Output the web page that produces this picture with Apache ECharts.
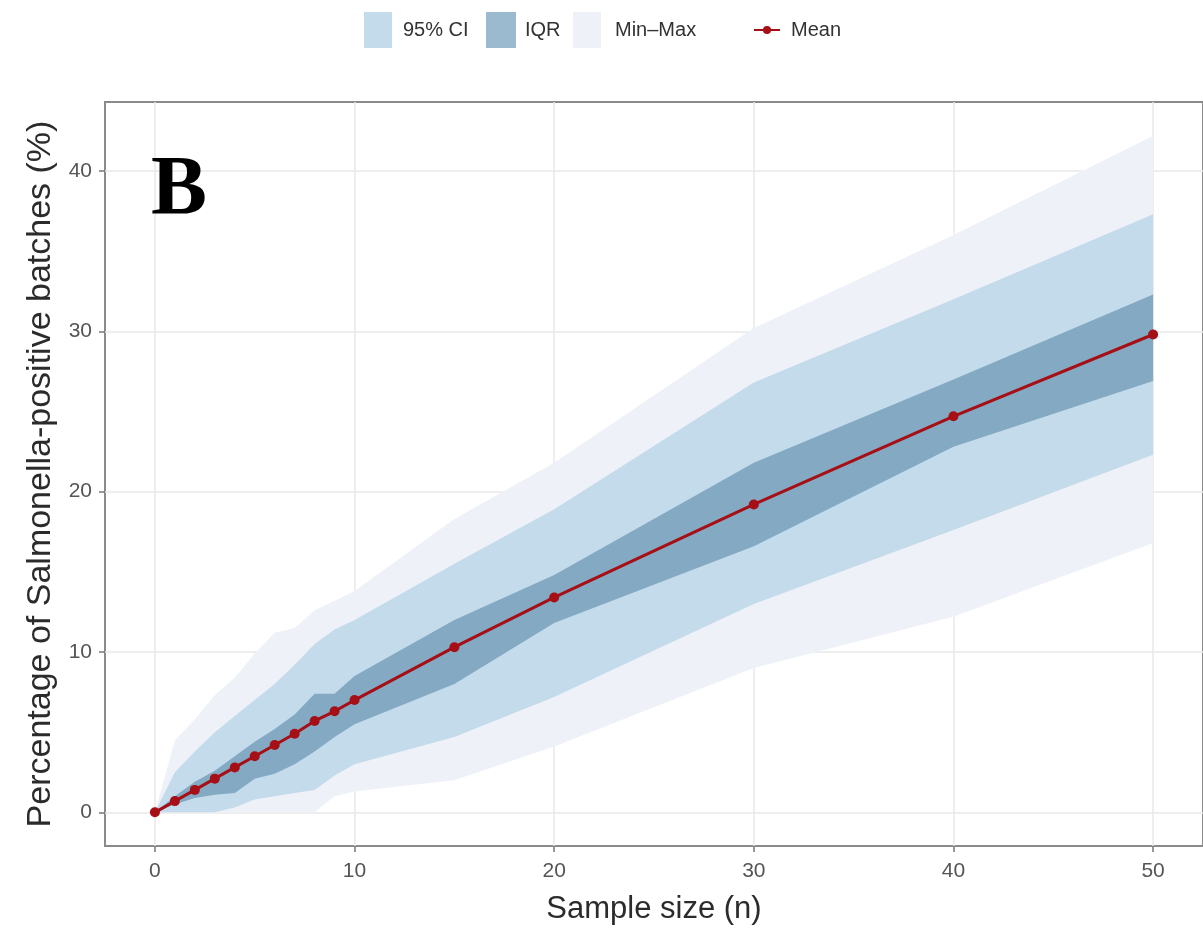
<!DOCTYPE html>
<html>
<head>
<meta charset="utf-8">
<script src="https://cdn.jsdelivr.net/npm/echarts@6/dist/echarts.min.js"></script>
<style>
html,body{margin:0;padding:0;background:#fff;}
#chart{width:1203px;height:933px;}
</style>
</head>
<body>
<div id="chart"></div>
<script>
// ---- data ----
const sampleSizes = [0,1,2,3,4,5,6,7,8,9,10,15,20,30,40,50];
const meanVals = [0,0.7,1.4,2.1,2.8,3.5,4.2,4.9,5.7,6.3,7.0,10.3,13.4,19.2,24.7,29.8];
const iqrLow  = [0,0.5,0.9,1.1,1.2,2.1,2.4,3.0,3.8,4.7,5.5,8.0,11.8,16.6,22.8,26.9];
const iqrHigh = [0,1.0,1.9,2.6,3.5,4.4,5.2,6.1,7.4,7.4,8.5,12.0,14.8,21.8,27.0,32.3];
const ciLow   = [0,0,0,0,0.3,0.8,1.0,1.2,1.4,2.3,3.0,4.7,7.2,13.0,17.6,22.3];
const ciHigh  = [0,2.5,3.8,5.0,6.0,7.0,8.0,9.2,10.5,11.4,12.0,15.5,18.9,26.8,32.0,37.3];
const mmLow   = [0,0,0,0,0,0,0,0,0,1.0,1.3,2.0,4.1,9.0,12.2,16.8];
const mmHigh  = [0,4.5,5.8,7.3,8.4,9.9,11.2,11.5,12.6,13.2,13.8,18.3,21.8,30.2,36.0,42.2];
const xTicks = [0,10,20,30,40,50];
const yTicks = [0,10,20,30,40];
const legendNames = ['95% CI','IQR','Min\u2013Max','Mean'];
const panelLabel = 'B';
const xTitle = 'Sample size (n)';
const yTitle = 'Percentage of Salmonella-positive batches (%)';

// ---- styles ----
const C_MM = '#eef2f8', C_CI = '#c4dbeb', C_IQR = '#84a9c3', C_IQR_LEG = '#9bb9cf', C_MEAN = '#a50f15';
const FONT = "'Liberation Sans', Arial, sans-serif";

function bandSeries(name, lo, hi, color){
  return {
    type:'custom', name:name, silent:true, z:1,
    itemStyle:{color:color},
    data: sampleSizes.map((x,i)=>[x, lo[i], hi[i]]),
    encode:{x:0, y:[1,2]},
    renderItem:function(params, api){
      if (params.dataIndex !== 0) return null;
      const pts = [];
      for (let i=0;i<sampleSizes.length;i++) pts.push(api.coord([sampleSizes[i], hi[i]]));
      for (let i=sampleSizes.length-1;i>=0;i--) pts.push(api.coord([sampleSizes[i], lo[i]]));
      return {type:'polygon', shape:{points:pts}, style:{fill:color, stroke:null}};
    }
  };
}

const chart = echarts.init(document.getElementById('chart'), null, {renderer:'canvas'});
const baseText = {fontSize:20, color:'#333', fontFamily:FONT};
const legendCommon = {orient:'horizontal', selectedMode:false};
chart.setOption({
  animation:false,
  backgroundColor:'#fff',
  grid:{left:105, right:-7, top:102, bottom:87, show:true, borderColor:'#8a8a8a', borderWidth:2, backgroundColor:'transparent'},
  legend:[
    Object.assign({}, legendCommon, {top:7, left:359, itemWidth:28, itemHeight:36,
      textStyle:Object.assign({}, baseText, {padding:[0,0,0,6]}),
      data:[{name:legendNames[0], icon:'rect', itemStyle:{color:C_CI}}]}),
    Object.assign({}, legendCommon, {top:7, left:481, itemWidth:30, itemHeight:36,
      textStyle:Object.assign({}, baseText, {padding:[0,0,0,4]}),
      data:[{name:legendNames[1], icon:'rect', itemStyle:{color:C_IQR_LEG}}]}),
    Object.assign({}, legendCommon, {top:7, left:568, itemWidth:28, itemHeight:36,
      textStyle:Object.assign({}, baseText, {padding:[0,0,0,9]}),
      data:[{name:legendNames[2], icon:'rect', itemStyle:{color:C_MM}}]}),
    Object.assign({}, legendCommon, {top:15, left:748, itemWidth:26, itemHeight:10,
      textStyle:Object.assign({}, baseText, {padding:[0,0,0,6]}),
      data:[{name:legendNames[3]}]})
  ],
  graphic:[{type:'text', left:151, top:150, z:10,
    style:{text:panelLabel, fontFamily:"'Liberation Serif','Times New Roman',serif", fontWeight:'bold', fontSize:84, fill:'#000'}}],
  xAxis:{type:'value', min:-2.5, max:52.5,
    name:xTitle, nameLocation:'middle', nameGap:48,
    nameTextStyle:{fontSize:31, color:'#2b2b2b', fontFamily:FONT},
    axisLine:{show:false, onZero:false},
    axisTick:{show:true, customValues:xTicks, length:6, lineStyle:{color:'#777', width:1.5}},
    axisLabel:{customValues:xTicks, fontSize:21, color:'#555', margin:15, fontFamily:FONT},
    splitLine:{show:true, lineStyle:{color:'#e9e9e9', width:1.5}}
  },
  yAxis:{type:'value', min:-2.1, max:44.3,
    name:yTitle, nameLocation:'middle', nameGap:47,
    nameTextStyle:{fontSize:34, color:'#2b2b2b', fontFamily:FONT},
    axisLine:{show:false, onZero:false},
    axisTick:{show:true, customValues:yTicks, length:6, lineStyle:{color:'#777', width:1.5}},
    axisLabel:{customValues:yTicks, fontSize:21, color:'#555', margin:13, fontFamily:FONT},
    splitLine:{show:true, lineStyle:{color:'#e9e9e9', width:1.5}}
  },
  series:[
    bandSeries(legendNames[2], mmLow, mmHigh, C_MM),
    bandSeries(legendNames[0], ciLow, ciHigh, C_CI),
    bandSeries(legendNames[1], iqrLow, iqrHigh, C_IQR),
    {type:'line', name:legendNames[3], data:sampleSizes.map((x,i)=>[x, meanVals[i]]), symbol:'circle', symbolSize:10,
      lineStyle:{color:C_MEAN, width:3}, itemStyle:{color:C_MEAN}, z:5}
  ]
});
</script>
</body>
</html>
